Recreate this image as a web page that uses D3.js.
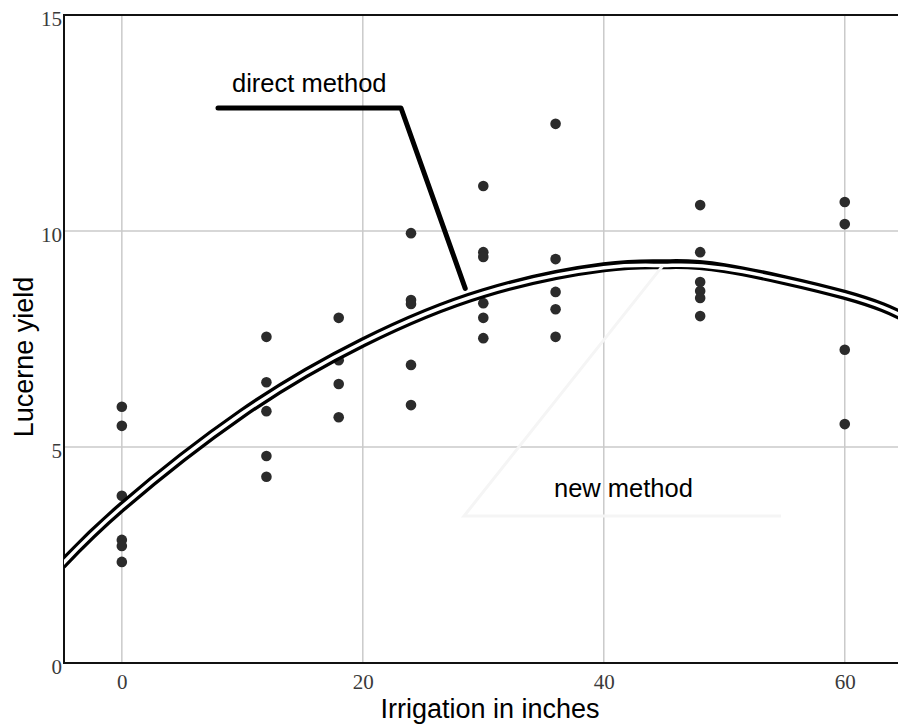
<!DOCTYPE html>
<html>
<head>
<meta charset="utf-8">
<script src="https://cdn.jsdelivr.net/npm/d3@7"></script>
<style>
    body { margin: 0; background: #fff; }
    svg { display: block; }
</style>
</head>
<body>
<svg id="chart" width="898" height="724"></svg>
<script>
"use strict";

// data: irrigation levels and lucerne yields
const irrigation = [0, 0, 0, 0, 0, 0,
                    12, 12, 12, 12, 12,
                    18, 18, 18, 18,
                    24, 24, 24, 24, 24,
                    30, 30, 30, 30, 30, 30,
                    36, 36, 36, 36, 36,
                    48, 48, 48, 48, 48, 48,
                    60, 60, 60, 60];
const yieldValues = [5.93, 5.49, 3.87, 2.85, 2.71, 2.34,
                     7.55, 6.50, 5.83, 4.79, 4.31,
                     7.99, 7.01, 6.46, 5.69,
                     9.95, 8.40, 8.31, 6.90, 5.97,
                     11.04, 9.51, 9.40, 8.33, 7.99, 7.52,
                     12.48, 9.35, 8.59, 8.19, 7.55,
                     10.60, 9.51, 8.82, 8.61, 8.45, 8.03,
                     10.67, 10.16, 7.25, 5.53];

// fitted curves
const curveX = [-5, 0, 10, 20, 30, 40, 45, 50, 60, 65];
const directY = [2.27, 3.61, 5.78, 7.42, 8.56, 9.16, 9.23, 9.14, 8.52, 8.00];
const newY = [2.27, 3.61, 5.78, 7.42, 8.56, 9.15, 9.20, 9.13, 8.52, 8.00];

const xTicks = [0, 20, 40, 60];
const yTicks = [0, 5, 10, 15];

const labels = {
    x: "Irrigation in inches",
    y: "Lucerne yield",
    direct: "direct method",
    newer: "new method"
};



// consts
const plot = { left: 64, top: 15, bottom: 663, right: 905 };
const sansFont = "'Liberation Sans', Arial, sans-serif",
      serifFont = "'Liberation Serif', 'Times New Roman', serif";

let svg = d3.select("#chart");



// scales
let scaleX = d3.scaleLinear()
.domain([-4.8, 65])
.range([plot.left, plot.right]);

let scaleY = d3.scaleLinear()
.domain([0, 15])
.range([plot.bottom, plot.top]);



// clip for the plot area
svg.append("defs")
.append("clipPath")
.attr("id", "plotClip")
.append("rect")
.attr("x", plot.left)
.attr("y", plot.top)
.attr("width", plot.right - plot.left)
.attr("height", plot.bottom - plot.top);



// grid lines
let grid = svg.append("g").attr("class", "grid");
grid.selectAll("line.vgrid")
.data(xTicks)
.enter()
.append("line")
.attr("class", "vgrid")
.attr("x1", d => scaleX(d))
.attr("x2", d => scaleX(d))
.attr("y1", plot.top)
.attr("y2", plot.bottom)
.attr("stroke", "#cacaca")
.attr("stroke-width", 1.5);

grid.selectAll("line.hgrid")
.data(yTicks.filter(d => d > 0 && d < 15))
.enter()
.append("line")
.attr("class", "hgrid")
.attr("x1", plot.left)
.attr("x2", plot.right)
.attr("y1", d => scaleY(d))
.attr("y2", d => scaleY(d))
.attr("stroke", "#cacaca")
.attr("stroke-width", 1.5);



// x axis (labels only, no tick marks)
svg.append("g")
.attr("class", "x_axis")
.attr("transform", `translate(0, ${plot.bottom})`)
.call(d3.axisBottom(scaleX).tickValues(xTicks).tickSize(0).tickPadding(11))
.call(g => g.select(".domain").remove())
.selectAll("text")
.attr("font-family", serifFont)
.attr("font-size", 21)
.attr("fill", "#3a3a3a");



// y axis
svg.append("g")
.attr("class", "y_axis")
.attr("transform", `translate(${plot.left}, 0)`)
.call(d3.axisLeft(scaleY).tickValues(yTicks).tickSize(0).tickPadding(2))
.call(g => g.select(".domain").remove())
.selectAll("text")
.attr("font-family", serifFont)
.attr("font-size", 21)
.attr("dy", "0.5em")
.attr("fill", "#3a3a3a");



// frame
svg.append("path")
.attr("d", `M${plot.right},${plot.top}H${plot.left}V${plot.bottom}H${plot.right}`)
.attr("fill", "none")
.attr("stroke", "#111")
.attr("stroke-width", 2);



// points
svg.append("g")
.attr("class", "points")
.selectAll("circle")
.data(irrigation.map((x, i) => ({ x: x, y: yieldValues[i] })))
.enter()
.append("circle")
.attr("cx", d => scaleX(d.x))
.attr("cy", d => scaleY(d.y))
.attr("r", 5.3)
.attr("fill", "#2b2b2b");



// fitted curves: thick black (direct) with thin white (new) on top
let line = d3.line()
.x(d => scaleX(d[0]))
.y(d => scaleY(d[1]))
.curve(d3.curveNatural);

let curves = svg.append("g").attr("clip-path", "url(#plotClip)");
curves.append("path")
.attr("d", line(curveX.map((x, i) => [x, directY[i]])))
.attr("fill", "none")
.attr("stroke", "#000")
.attr("stroke-width", 10);
curves.append("path")
.attr("d", line(curveX.map((x, i) => [x, newY[i]])))
.attr("fill", "none")
.attr("stroke", "#fff")
.attr("stroke-width", 3.5);



// annotations
svg.append("path")
.attr("d", `M218,108H401L${scaleX(28.5)},${scaleY(8.58) - 4}`)
.attr("fill", "none")
.attr("stroke", "#000")
.attr("stroke-width", 5)
.attr("stroke-linecap", "round")
.attr("stroke-linejoin", "round");

svg.append("text")
.attr("x", 232)
.attr("y", 92)
.attr("font-family", sansFont)
.attr("font-size", 25.5)
.attr("fill", "#000")
.text(labels.direct);

svg.append("path")
.attr("d", `M781,516H464L${scaleX(44.9)},${scaleY(9.2)}`)
.attr("fill", "none")
.attr("stroke", "#f5f5f5")
.attr("stroke-width", 3);

svg.append("text")
.attr("x", 554)
.attr("y", 497)
.attr("font-family", sansFont)
.attr("font-size", 25.5)
.attr("fill", "#000")
.text(labels.newer);



// axis titles
svg.append("text")
.attr("x", 490)
.attr("y", 718)
.attr("text-anchor", "middle")
.attr("font-family", sansFont)
.attr("font-size", 27)
.attr("fill", "#000")
.text(labels.x);

svg.append("text")
.attr("transform", "translate(33, 357) rotate(-90)")
.attr("text-anchor", "middle")
.attr("font-family", sansFont)
.attr("font-size", 27)
.attr("fill", "#000")
.text(labels.y);
</script>
</body>
</html>
